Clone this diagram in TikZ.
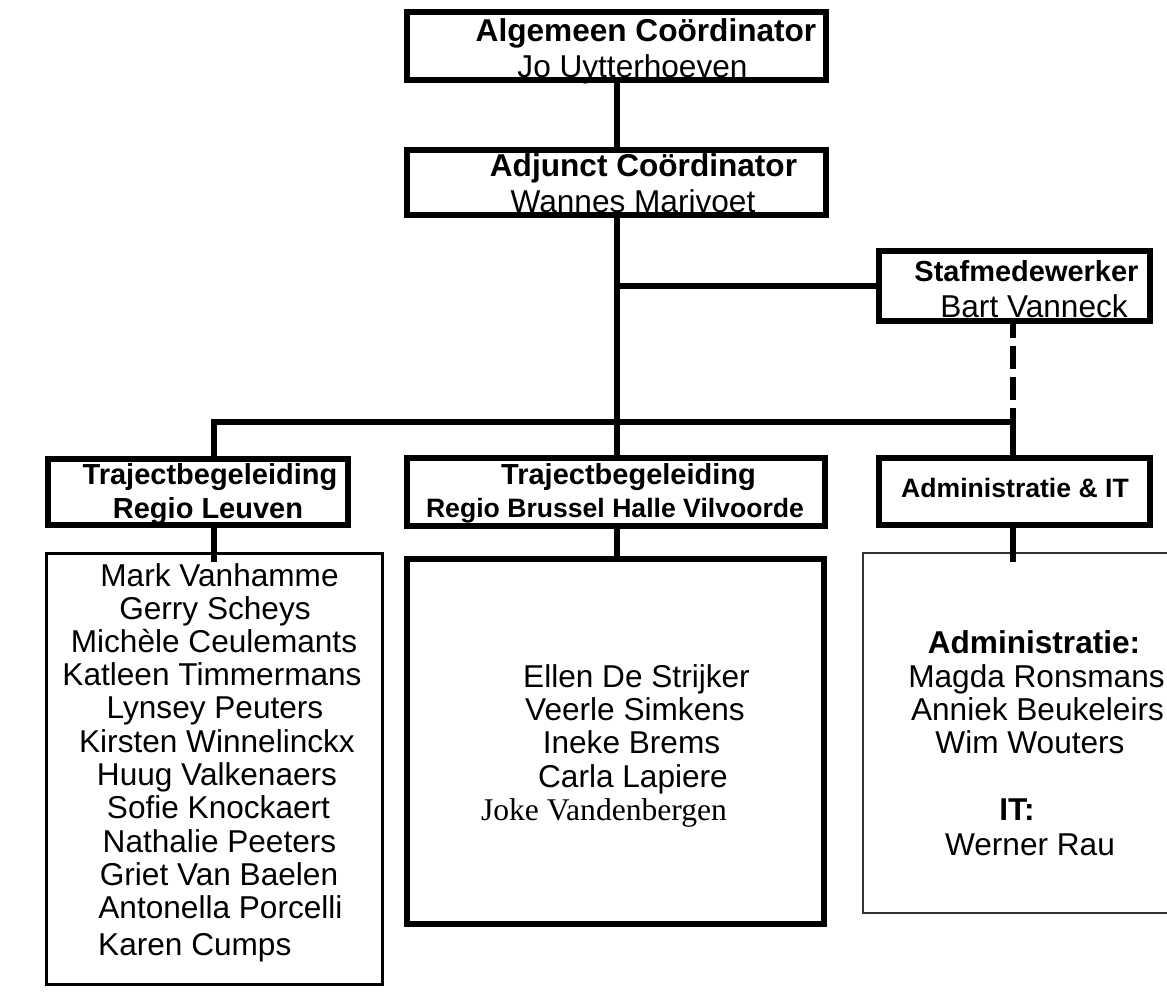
\documentclass[tikz,border=0pt]{standalone}
\usepackage{fontspec}
\setmainfont{Liberation Sans}
\newfontfamily\timesf{Liberation Serif}
\begin{document}
\begin{tikzpicture}[x=1pt,y=-1pt,
  box/.style={draw, line width=6pt, inner sep=0pt, line join=miter},
  listbox/.style={draw, line width=3pt, inner sep=0pt, line join=miter},
  rlistbox/.style={draw=black!80, line width=2pt, inner sep=0pt, line join=miter},
  conn/.style={line width=6pt, line join=miter},
  dconn/.style={line width=6pt, dash pattern=on 23pt off 8pt, dash phase=9pt},
  txt/.style={inner sep=0pt, anchor=base, font=\fontsize{31.6}{36}\selectfont},
  btxt/.style={inner sep=0pt, anchor=base, font=\fontsize{31.6}{36}\selectfont\bfseries},
  htxt/.style={inner sep=0pt, anchor=base, font=\fontsize{29}{34}\selectfont\bfseries},
  stxt/.style={inner sep=0pt, anchor=base, font=\fontsize{26.6}{32}\selectfont\bfseries}]
\useasboundingbox (0,0) rectangle (1167,997);
\fill[white] (0,0) rectangle (1167,997);

% boxes
\node[box, minimum width=419pt, minimum height=68pt] (b1) at (616.5,45.5) {};
\node[box, minimum width=419pt, minimum height=64.5pt] (b2) at (616.5,182.25) {};
\node[box, minimum width=271pt, minimum height=70pt] (staf) at (1014.5,285.5) {};
\node[box, minimum width=300pt, minimum height=66pt] (lh) at (198,491.5) {};
\node[box, minimum width=417.5pt, minimum height=68pt] (bh) at (615.75,491.5) {};
\node[box, minimum width=271pt, minimum height=66.5pt] (ah) at (1014.5,491.25) {};
\node[listbox, minimum width=336pt, minimum height=430.5pt] (ll) at (214,768.75) {};
\node[box, minimum width=417pt, minimum height=364.5pt] (bl) at (615.5,741.25) {};
\node[rlistbox, minimum width=324pt, minimum height=360.5pt] (rl) at (1025,732.75) {};

% junctions
\coordinate (jS) at (617,286);
\coordinate (jL) at (214,422);
\coordinate (jM) at (617,422);
\coordinate (jR) at (1013,422);
\coordinate (eL) at (214,562);
\coordinate (eR) at (1013,562);

% connectors
\draw[conn] (b1.south -| jS) -- (b2.north -| jS);
\draw[conn] (b2.south -| jS) -- (jS) -- (jM) -- (bh.north -| jM);
\draw[conn] (jS) -- (staf.west |- jS);
\draw[conn] (lh.north -| jL) -- (jL) -- (jR) -- (ah.north -| jR);
\draw[dconn] (staf.south -| jR) -- (jR);
\draw[conn] (lh.south -| eL) -- (eL);
\draw[conn] (bh.south -| jM) -- (bl.north -| jM);
\draw[conn] (ah.south -| eR) -- (eR);

% top texts
\node[btxt] (t1a) at (646,41) {Algemeen Coördinator};
\node[txt] (t1b) at (632.5,77) {Jo Uytterhoeven};
\node[btxt] (t2a) at (643.5,176) {Adjunct Coördinator};
\node[txt] (t2b) at (633,212) {Wannes Marivoet};
\node[htxt] (tsa) at (1026.5,281) {Stafmedewerker};
\node[txt] (tsb) at (1034,317.5) {Bart Vanneck};

% headers
\node[htxt] (tla) at (210,484.5) {Trajectbegeleiding};
\node[htxt] (tlb) at (208,518) {Regio Leuven};
\node[htxt] (tma) at (628.5,484.5) {Trajectbegeleiding};
\node[stxt] (tmb) at (615,517.5) {Regio Brussel Halle Vilvoorde};
\node[stxt] (tra) at (1015,497) {Administratie \& IT};

% left names
\node[txt] (n1) at (219.5,586) {Mark Vanhamme};
\node[txt] (n2) at (215,619) {Gerry Scheys};
\node[txt] (n3) at (214,652) {Michèle Ceulemants};
\node[txt] (n4) at (212,685) {Katleen Timmermans};
\node[txt] (n5) at (215,718) {Lynsey Peuters};
\node[txt] (n6) at (217,752) {Kirsten Winnelinckx};
\node[txt] (n7) at (217,785) {Huug Valkenaers};
\node[txt] (n8) at (218.5,818) {Sofie Knockaert};
\node[txt] (n9) at (219.5,852) {Nathalie Peeters};
\node[txt] (n10) at (219,885) {Griet Van Baelen};
\node[txt] (n11) at (220.5,918) {Antonella Porcelli};
\node[txt, anchor=base west] (n12) at (98,955) {Karen Cumps};

% middle names
\node[txt] (m1) at (636.5,687) {Ellen De Strijker};
\node[txt] (m2) at (635,720) {Veerle Simkens};
\node[txt] (m3) at (631.5,753) {Ineke Brems};
\node[txt] (m4) at (633,787) {Carla Lapiere};
\node[txt, font=\fontsize{31.6}{36}\timesf] (m5) at (604,820) {Joke Vandenbergen};

% right names
\node[btxt] (r1) at (1034,653) {Administratie:};
\node[txt] (r2) at (1036.5,687) {Magda Ronsmans};
\node[txt] (r3) at (1037.5,720) {Anniek Beukeleirs};
\node[txt] (r4) at (1030,753) {Wim Wouters};
\node[btxt] (r5) at (1017,820) {IT:};
\node[txt] (r6) at (1030,855) {Werner Rau};
\end{tikzpicture}
\end{document}
